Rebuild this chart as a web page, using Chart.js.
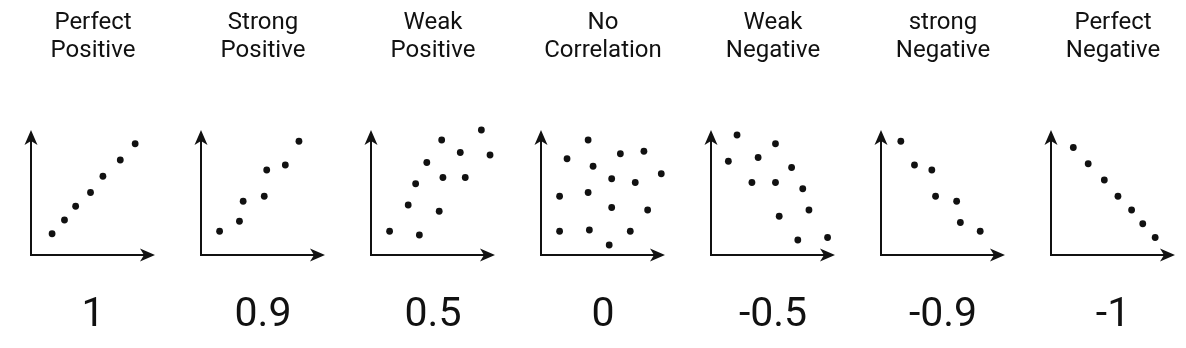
<!DOCTYPE html>
<html>
<head>
<meta charset="utf-8">
<script src="https://cdn.jsdelivr.net/npm/chart.js@4"></script>
<style>
    html, body { margin: 0; padding: 0; background: #fff; overflow: hidden; }
    #panels { position: relative; width: 1186px; height: 348px; }
    #panels canvas { position: absolute; top: 0; }
</style>
</head>
<body>
<div id="panels"></div>
<script>
// panel labels and correlation coefficients
const panelTitles = [
    ['Perfect', 'Positive'],
    ['Strong', 'Positive'],
    ['Weak', 'Positive'],
    ['No', 'Correlation'],
    ['Weak', 'Negative'],
    ['strong', 'Negative'],
    ['Perfect', 'Negative']
];
const coefficients = ['1', '0.9', '0.5', '0', '-0.5', '-0.9', '-1'];

// points as [x, y], both axes run 0..100
const perfectPositive = [[17, 17], [27, 28], [36, 39], [48, 50], [58, 63], [72, 76], [84, 89]];
const strongPositive = [[15, 19], [31, 27], [34, 43], [51, 47], [53, 68], [68, 72], [79, 91]];
const weakPositive = [[15, 19], [39, 16], [30, 40], [36, 57], [45, 74], [57, 92], [58, 62],
    [55, 35], [72, 82], [76, 62], [89, 100], [96, 80]];
const noCorrelation = [[21, 77], [38, 92], [42, 71], [64, 81], [83, 83], [97, 65], [57, 61],
    [76, 58], [15, 47], [38, 50], [57, 38], [86, 36], [15, 19], [39, 20], [72, 19], [55, 8]];
const weakNegative = [[21, 96], [14, 75], [52, 89], [38, 78], [65, 70], [33, 58], [52, 58],
    [74, 53], [79, 36], [55, 31], [70, 12], [94, 14]];
const strongNegative = [[16, 91], [27, 72], [41, 68], [44, 47], [61, 43], [64, 26], [80, 19]];
const perfectNegative = [[18, 86], [30, 73], [43, 60], [54, 47], [65, 36], [74, 25], [84, 14]];

const panelPoints = [perfectPositive, strongPositive, weakPositive, noCorrelation,
    weakNegative, strongNegative, perfectNegative];

const ink = '#111111';

// draws the two axes with arrow heads from the hidden scales
const arrowAxes = {
    id: 'arrowAxes',
    beforeDatasetsDraw(chart) {
        const ctx = chart.ctx;
        const x0 = chart.scales.x.getPixelForValue(0);
        const x1 = chart.scales.x.getPixelForValue(100);
        const y0 = chart.scales.y.getPixelForValue(0);
        const y1 = chart.scales.y.getPixelForValue(100);
        ctx.save();
        ctx.strokeStyle = ink;
        ctx.fillStyle = ink;
        ctx.lineWidth = 2;
        ctx.beginPath();
        ctx.moveTo(x0, y1 + 8);
        ctx.lineTo(x0, y0);
        ctx.lineTo(x1 - 8, y0);
        ctx.stroke();

        ctx.beginPath();
        ctx.moveTo(x0, y1);
        ctx.lineTo(x0 - 6.5, y1 + 15);
        ctx.lineTo(x0, y1 + 11);
        ctx.lineTo(x0 + 6.5, y1 + 15);
        ctx.closePath();
        ctx.fill();

        ctx.beginPath();
        ctx.moveTo(x1, y0);
        ctx.lineTo(x1 - 15, y0 - 6.5);
        ctx.lineTo(x1 - 11, y0);
        ctx.lineTo(x1 - 15, y0 + 6.5);
        ctx.closePath();
        ctx.fill();
        ctx.restore();
    }
};

document.addEventListener('DOMContentLoaded', function () {
    const holder = document.getElementById('panels');

    panelPoints.forEach(function (points, i) {
        const canvas = document.createElement('canvas');
        canvas.width = 170;
        canvas.height = 348;
        canvas.style.left = (8 + i * 170) + 'px';
        holder.appendChild(canvas);

        new Chart(canvas.getContext('2d'), {
            type: 'scatter',
            data: {
                datasets: [{
                    data: points,
                    backgroundColor: ink,
                    borderWidth: 0,
                    pointRadius: 3.4,
                    pointHoverRadius: 3.4,
                    clip: false
                }]
            },
            options: {
                responsive: false,
                animation: false,
                events: [],
                layout: {
                    autoPadding: false,
                    padding: { left: 23, right: 23, top: 0, bottom: 0 }
                },
                scales: {
                    x: { type: 'linear', display: false, min: 0, max: 100 },
                    y: { type: 'linear', display: false, min: 0, max: 100 }
                },
                plugins: {
                    legend: { display: false },
                    tooltip: { enabled: false },
                    title: {
                        display: true,
                        text: panelTitles[i],
                        color: ink,
                        font: { family: 'Roboto', size: 24, weight: 'normal', lineHeight: 1.18 },
                        padding: { top: 9, bottom: 64.36 }
                    },
                    subtitle: {
                        display: true,
                        position: 'bottom',
                        text: coefficients[i],
                        color: ink,
                        font: { family: 'Roboto', size: 41, weight: 'normal', lineHeight: 1.2 },
                        padding: { top: 36.4, bottom: 7.4 }
                    }
                }
            },
            plugins: [arrowAxes]
        });
    });
});
</script>
</body>
</html>
